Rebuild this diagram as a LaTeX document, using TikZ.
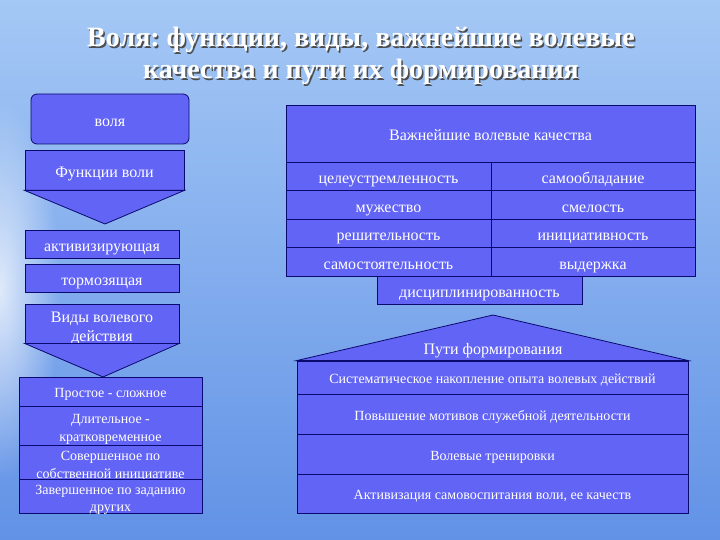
\documentclass[tikz,border=0pt]{standalone}
\usepackage{fontspec}
\setmainfont{Liberation Serif}
\usetikzlibrary{fadings}
\frenchspacing

\definecolor{boxfill}{RGB}{98,100,245}
\definecolor{boxline}{RGB}{10,10,110}
\definecolor{skytop}{RGB}{164,200,245}
\definecolor{skymid}{RGB}{130,174,239}
\definecolor{skybot}{RGB}{98,146,230}

\tikzfading[name=softglow, inner color=transparent!25, outer color=transparent!100]

\tikzset{
  shapefill/.style={draw=boxline, fill=boxfill, line width=0.8pt},
  boxtext/.style={text=white, align=center, inner sep=0pt,
    font=\fontsize{16}{19}\selectfont},
  lowtext/.style={boxtext, font=\fontsize{14}{17.5}\selectfont},
  box/.style={shapefill, inner sep=0pt,
    label={[boxtext, text height=11pt, text depth=3.5pt, yshift=-3.5pt]center:{#1}}},
  tallbox/.style={shapefill, inner sep=0pt, label={[boxtext, yshift=-4.5pt]center:{#1}}},
  lowbox/.style={shapefill, inner sep=0pt,
    label={[lowtext, text height=9.5pt, text depth=3pt, yshift=-3pt]center:{#1}}},
  lowtallbox/.style={shapefill, inner sep=0pt, label={[lowtext, yshift=-4pt]center:{#1}}},
  titletext/.style={text=white, align=center,
    font=\fontsize{28}{32}\selectfont\bfseries},
}

\begin{document}
\begin{tikzpicture}[x=1pt,y=-1pt]
            \useasboundingbox (0,0) rectangle (720,540);
            % sky
            \shade[top color=skytop, middle color=skymid, bottom color=skybot] (0,0) rectangle (720,540);
            \begin{scope}
              \clip (0,0) rectangle (720,540);
              \fill[white, path fading=softglow] (0,290) ellipse (60 and 190);
            \end{scope}

            % title
            \node[titletext, text=black!70] (titleshadow) at (362.5,57.5) {Воля: функции, виды, важнейшие волевые\\качества и пути их формирования};
            \node[titletext] (title) at (361,56) {Воля: функции, виды, важнейшие волевые\\качества и пути их формирования};

            % left column
            \node[box={воля}, rounded corners=6pt, minimum width=158pt, minimum height=50pt] (volya) at (110,119) {};

            \node[box={Функции воли}, minimum width=159pt, minimum height=40pt] (funkcii) at (104.5,170) {};
            \filldraw[shapefill] (funkcii.south west) -- (funkcii.south east) -- (105,224) -- cycle;

            \node[box={активизирующая}, minimum width=154pt, minimum height=28pt] (aktiv) at (102,244) {};
            \node[box={тормозящая}, minimum width=154pt, minimum height=28pt] (tormoz) at (102,278) {};

            \node[tallbox={Виды волевого\\действия}, minimum width=154pt, minimum height=39pt] (vidy) at (102,323.5) {};
            \filldraw[shapefill] (vidy.south west) -- (vidy.south east) -- (103,377) -- cycle;

            \node[lowbox={Простое - сложное}, minimum width=183pt, minimum height=29pt] (prostoe) at (110.5,391.5) {};
            \node[lowtallbox={Длительное -\\кратковременное}, minimum width=183pt, minimum height=39pt] (dlit) at (110.5,425.5) {};
            \node[lowtallbox={Совершенное по\\собственной инициативе}, minimum width=183pt, minimum height=34pt] (sobstv) at (110.5,462) {};
            \node[lowtallbox={Завершенное по заданию\\других}, minimum width=183pt, minimum height=34pt] (zadanie) at (110.5,496) {};

            % qualities
            \node[box={Важнейшие волевые качества}, minimum width=409pt, minimum height=57pt] (kachestva) at (490.5,133.5) {};

            \node[box={целеустремленность}, minimum width=205pt, minimum height=28.5pt] (celeustr) at (388.5,176.5) {};
            \node[box={самообладание}, minimum width=204pt, minimum height=28.5pt] (samoobl) at (593,176.5) {};
            \node[box={мужество}, minimum width=205pt, minimum height=28.5pt] (muzh) at (388.5,205) {};
            \node[box={смелость}, minimum width=204pt, minimum height=28.5pt] (smel) at (593,205) {};
            \node[box={решительность}, minimum width=205pt, minimum height=28.5pt] (resh) at (388.5,233.5) {};
            \node[box={инициативность}, minimum width=204pt, minimum height=28.5pt] (inic) at (593,233.5) {};
            \node[box={самостоятельность}, minimum width=205pt, minimum height=28.5pt] (samost) at (388.5,262) {};
            \node[box={выдержка}, minimum width=204pt, minimum height=28.5pt] (vyderzh) at (593,262) {};

            \node[box={дисциплинированность}, minimum width=205pt, minimum height=28pt] (discipl) at (479.5,290) {};

            % ways
            \node[lowbox={Систематическое накопление опыта волевых действий}, minimum width=391pt, minimum height=33pt] (sistem) at (492.5,377.5) {};
            \node[lowbox={Повышение мотивов служебной деятельности}, minimum width=391pt, minimum height=40pt] (motivy) at (492.5,414) {};
            \node[lowbox={Волевые тренировки}, minimum width=391pt, minimum height=40pt] (trenir) at (492.5,454) {};
            \node[lowbox={Активизация самовоспитания воли, ее качеств}, minimum width=391pt, minimum height=39pt] (samovosp) at (492.5,493.5) {};

            \filldraw[shapefill] (sistem.north west) -- (493,315) -- (sistem.north east) -- cycle;
            \node[boxtext] (puti) at (493,351) {Пути формирования};
\end{tikzpicture}
\end{document}
